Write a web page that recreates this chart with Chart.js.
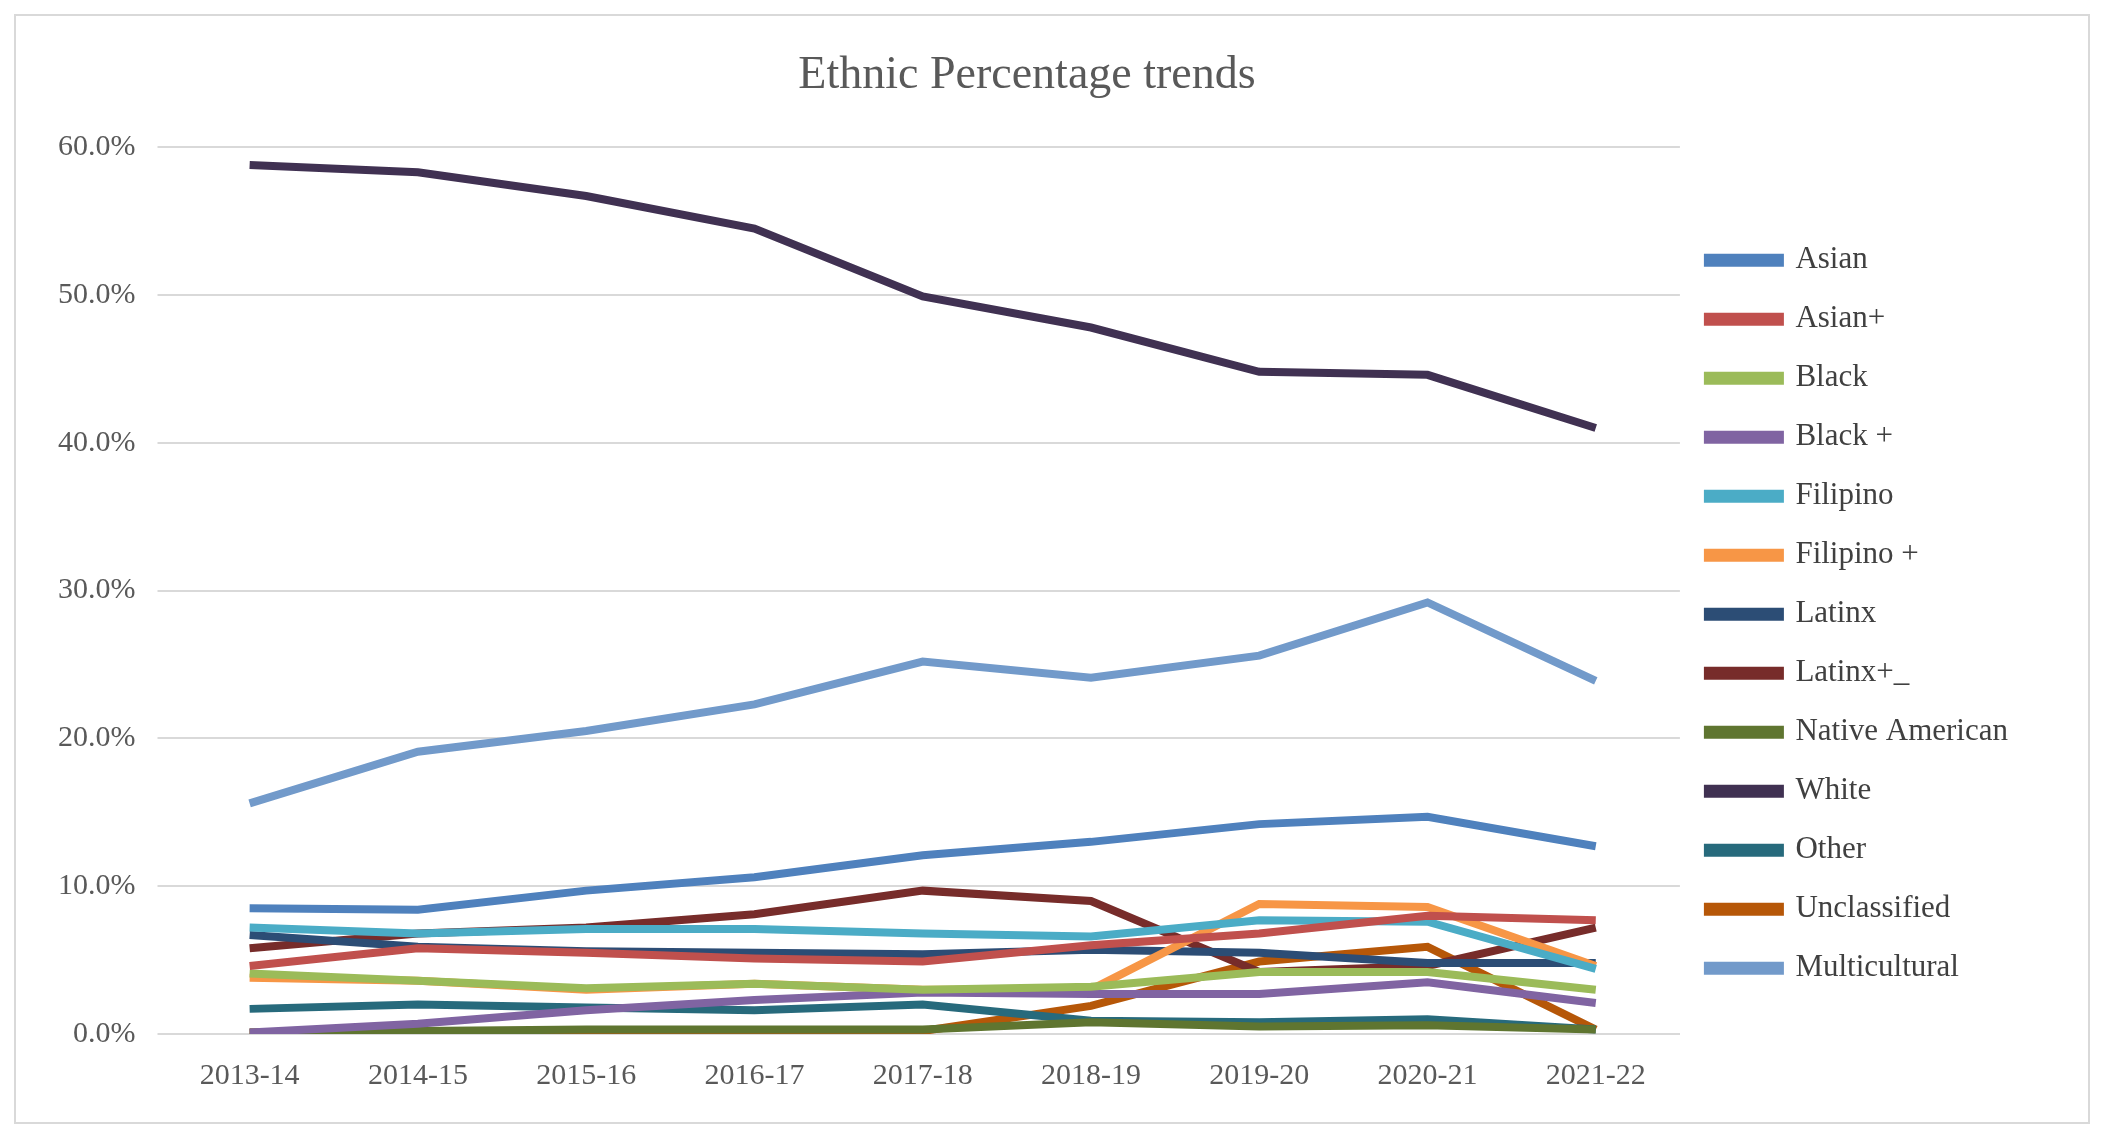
<!DOCTYPE html>
<html><head><meta charset="utf-8">
<script src="https://cdn.jsdelivr.net/npm/chart.js@4"></script>
<style>
html,body{margin:0;padding:0;background:#fff;}
#wrap{position:absolute;left:14px;top:14px;width:2076px;height:1110px;border:2px solid #d9d9d9;box-sizing:border-box;}
canvas{display:block;}
</style></head><body>
<div id="wrap"><canvas id="c"></canvas></div>
<script>
const categories=["2013-14","2014-15","2015-16","2016-17","2017-18","2018-19","2019-20","2020-21","2021-22"];
const asian=[8.5,8.4,9.7,10.6,12.1,13.0,14.2,14.7,12.7];
const asianPlus=[4.6,5.8,5.5,5.1,4.9,6.0,6.8,8.0,7.7];
const black=[4.1,3.6,3.1,3.4,3.0,3.2,4.2,4.2,3.0];
const blackPlus=[0.1,0.7,1.6,2.3,2.8,2.7,2.7,3.5,2.1];
const filipino=[7.2,6.8,7.1,7.1,6.8,6.6,7.7,7.6,4.4];
const filipinoPlus=[3.8,3.6,3.0,3.4,3.0,3.0,8.8,8.6,4.6];
const latinx=[6.7,5.9,5.6,5.5,5.4,5.7,5.5,4.8,4.8];
const latinxPlus=[5.8,6.8,7.2,8.1,9.7,9.0,4.2,4.6,7.2];
const nativeAmerican=[0.1,0.2,0.3,0.3,0.3,0.8,0.5,0.6,0.3];
const white=[58.8,58.3,56.7,54.5,49.9,47.8,44.8,44.6,41.0];
const other=[1.7,2.0,1.8,1.6,2.0,0.9,0.8,1.0,0.3];
const unclassified=[0.1,0.1,0.1,0.1,0.2,1.9,4.9,5.9,0.3];
const multicultural=[15.6,19.1,20.5,22.3,25.2,24.1,25.6,29.2,23.9];
const yTicks=[0,10,20,30,40,50,60];

const series=[
 ["Asian",asian,"#4f81bd"],["Asian+",asianPlus,"#c0504d"],["Black",black,"#9bbb59"],
 ["Black +",blackPlus,"#8064a2"],["Filipino",filipino,"#4bacc6"],["Filipino +",filipinoPlus,"#f79646"],
 ["Latinx",latinx,"#2c4d75"],["Latinx+_",latinxPlus,"#772c2a"],["Native American",nativeAmerican,"#5f7530"],
 ["White",white,"#403152"],["Other",other,"#276a7c"],["Unclassified",unclassified,"#b65708"],
 ["Multicultural",multicultural,"#729aca"]];
const F="'Liberation Serif','DejaVu Serif',serif";
new Chart(document.getElementById('c'),{
 type:'line',
 data:{labels:categories,datasets:series.map(s=>({label:s[0],data:s[1],borderColor:s[2],backgroundColor:s[2],borderWidth:8,pointRadius:0,tension:0,fill:false}))},
 options:{responsive:true,maintainAspectRatio:false,animation:false,
  layout:{padding:{left:20,right:70,top:10,bottom:12}},
  plugins:{
   title:{display:true,text:"Ethnic Percentage trends",color:"#595959",font:{family:F,size:46,weight:'normal'},padding:{top:22,bottom:44}},
   legend:{position:'right',title:{display:true,text:' ',font:{size:2},padding:{top:0,bottom:90}},
     labels:{boxWidth:72,boxHeight:5,padding:28,color:"#404040",font:{family:F,size:31}}},
   tooltip:{enabled:false}},
  scales:{
   x:{offset:true,grid:{display:false},border:{color:"#d9d9d9",width:2},ticks:{color:"#595959",font:{family:F,size:30},padding:16}},
   y:{min:0,max:60,afterBuildTicks:a=>{a.ticks=yTicks.map(v=>({value:v}));},grid:{color:"#d9d9d9",lineWidth:2},border:{display:false},
      ticks:{color:"#595959",font:{family:F,size:30},padding:22,callback:v=>v.toFixed(1)+"%"}}}
 }});
</script></body></html>
